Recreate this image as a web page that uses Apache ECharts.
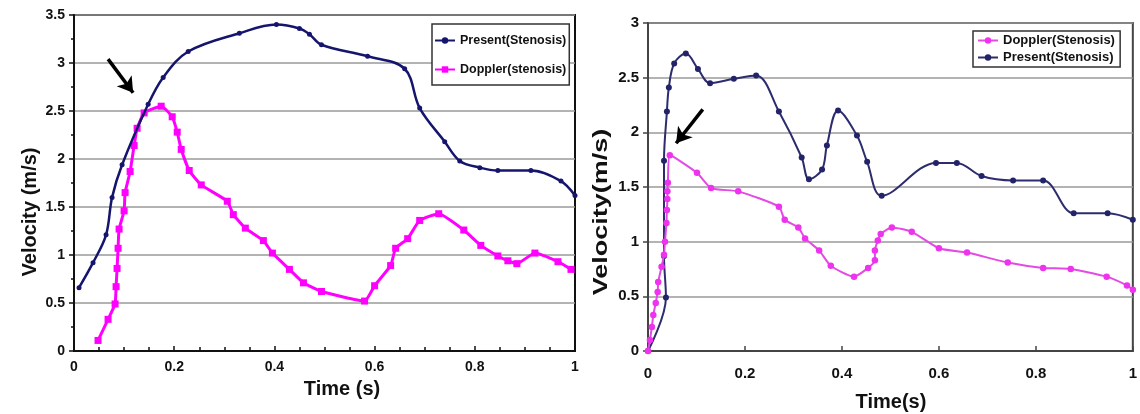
<!DOCTYPE html>
<html>
<head>
<meta charset="utf-8">
<script src="https://cdn.jsdelivr.net/npm/echarts@6/dist/echarts.min.js"></script>
<style>html,body{margin:0;padding:0;background:#fff}#c{width:1140px;height:414px}</style>
</head>
<body>
<div id="c"></div>
<script>
// ---- Left panel data [time (s), velocity (m/s)] ----
var leftPresent = [[0.01,0.66],[0.038,0.92],[0.064,1.21],[0.076,1.6],[0.096,1.94],[0.148,2.57],[0.178,2.85],[0.228,3.12],[0.33,3.31],[0.404,3.4],[0.45,3.36],[0.47,3.3],[0.494,3.19],[0.586,3.07],[0.66,2.94],[0.69,2.53],[0.74,2.18],[0.77,1.98],[0.81,1.91],[0.846,1.88],[0.912,1.88],[0.972,1.77],[1.0,1.62]];
var leftDoppler = [[0.048,0.11],[0.068,0.33],[0.082,0.49],[0.084,0.67],[0.086,0.86],[0.088,1.07],[0.09,1.27],[0.1,1.46],[0.102,1.65],[0.112,1.87],[0.12,2.14],[0.126,2.32],[0.14,2.48],[0.174,2.55],[0.196,2.44],[0.206,2.28],[0.214,2.1],[0.23,1.88],[0.254,1.73],[0.306,1.56],[0.318,1.42],[0.342,1.28],[0.378,1.15],[0.396,1.02],[0.43,0.85],[0.458,0.71],[0.494,0.62],[0.58,0.52],[0.6,0.68],[0.632,0.89],[0.642,1.07],[0.666,1.17],[0.69,1.36],[0.728,1.43],[0.778,1.26],[0.812,1.10],[0.846,0.99],[0.866,0.94],[0.884,0.91],[0.92,1.02],[0.966,0.93],[0.992,0.85]];
// ---- Right panel data ----
var rightPresent = [[0,0],[0.037,0.49],[0.033,0.87],[0.033,1.74],[0.039,2.19],[0.043,2.41],[0.054,2.63],[0.078,2.72],[0.103,2.58],[0.128,2.45],[0.177,2.49],[0.223,2.52],[0.27,2.19],[0.317,1.77],[0.332,1.57],[0.359,1.66],[0.369,1.88],[0.392,2.2],[0.431,1.97],[0.452,1.73],[0.482,1.42],[0.594,1.72],[0.637,1.72],[0.688,1.6],[0.753,1.56],[0.815,1.56],[0.878,1.26],[0.948,1.26],[1.0,1.2]];
var rightDoppler = [[0,0],[0.004,0.1],[0.008,0.22],[0.011,0.33],[0.016,0.44],[0.02,0.54],[0.021,0.63],[0.028,0.77],[0.033,0.88],[0.035,1.0],[0.038,1.17],[0.039,1.29],[0.04,1.39],[0.04,1.46],[0.041,1.54],[0.045,1.79],[0.101,1.63],[0.13,1.49],[0.186,1.46],[0.27,1.32],[0.282,1.2],[0.31,1.13],[0.324,1.03],[0.353,0.92],[0.377,0.78],[0.425,0.68],[0.454,0.76],[0.468,0.83],[0.468,0.92],[0.474,1.01],[0.48,1.07],[0.503,1.13],[0.544,1.09],[0.6,0.94],[0.658,0.9],[0.742,0.81],[0.815,0.76],[0.872,0.75],[0.946,0.68],[0.988,0.6],[1.0,0.56]];
// arrow annotations (data coords: tail, tip)
var leftArrow = [[0.068,3.04],[0.118,2.69]];
var rightArrow = [[0.113,2.21],[0.058,1.90]];

var leftNames = ['Present(Stenosis)','Doppler(stenosis)'];
var rightNames = ['Doppler(Stenosis)','Present(Stenosis) '];

var FONT = '"Liberation Sans", Arial, sans-serif';
var chart = echarts.init(document.getElementById('c'), null, {renderer:'canvas'});

function xAxisCfg(gi, lineColor, inside, margin, fs){
  return {type:'value', gridIndex:gi, min:0, max:1, interval:0.2,
    axisLine:{show:true, onZero:false, lineStyle:{color:lineColor, width:2}},
    axisTick:{show:true, inside:inside, length:5, lineStyle:{color:lineColor, width:1.5}},
    minorTick:{show:gi===0, splitNumber:4, length:4, lineStyle:{color:lineColor, width:1.5}},
    splitLine:{show:false},
    axisLabel:{color:'#111', fontFamily:FONT, fontWeight:'bold', fontSize:fs, margin:margin,
      formatter:function(v){return String(+v.toFixed(1));}}
  };
}
function yAxisCfg(gi, max, lineColor, margin, fs){
  return {type:'value', gridIndex:gi, min:0, max:max, interval:0.5,
    axisLine:{show:true, onZero:false, lineStyle:{color:lineColor, width:2}},
    axisTick:{show:true, length:5, lineStyle:{color:lineColor, width:1.5}},
    minorTick:{show:gi===0, splitNumber:2, length:3, lineStyle:{color:lineColor, width:1.5}},
    splitLine:{show:true, lineStyle:{color:'#9a9a9a', width:1.5}},
    axisLabel:{color:'#111', fontFamily:FONT, fontWeight:'bold', fontSize:fs, margin:margin,
      formatter:function(v){return String(+v.toFixed(1));}}
  };
}
function arrowLine(a){
  return {silent:true, symbol:['none','arrow'], symbolSize:[14,15], label:{show:false},
    lineStyle:{color:'#000', width:3.5, type:'solid'},
    data:[[{coord:a[0]},{coord:a[1]}]]};
}

var option = {
  animation:false,
  backgroundColor:'#fff',
  grid:[
    {left:74, top:15, width:501, height:336, show:true, borderColor:'#111', borderWidth:2, backgroundColor:'transparent'},
    {left:648, top:23, width:485, height:328, show:true, borderColor:'#444', borderWidth:2, backgroundColor:'transparent'}
  ],
  xAxis:[ xAxisCfg(0,'#111',true,9,14), xAxisCfg(1,'#444',true,15,15) ],
  yAxis:[ yAxisCfg(0,3.5,'#111',9,14), yAxisCfg(1,3,'#444',9,15) ],
  legend:[
    {data:leftNames, left:432, top:24, orient:'vertical', itemGap:16, itemWidth:20, itemHeight:8,
     padding:[10,3,9,2], borderColor:'#333', borderWidth:1.5, backgroundColor:'#fff', selectedMode:false,
     textStyle:{fontFamily:FONT, fontWeight:'bold', fontSize:12.5, color:'#111'}},
    {data:rightNames, left:973, top:31, orient:'vertical', itemGap:4, itemWidth:20, itemHeight:8,
     padding:[3,3,3,4], borderColor:'#333', borderWidth:1.5, backgroundColor:'#fff', selectedMode:false,
     textStyle:{fontFamily:FONT, fontWeight:'bold', fontSize:13, color:'#111'}}
  ],
  graphic:[
    {type:'text', x:30, y:212, rotation:Math.PI/2, style:{text:'Velocity (m/s)', font:'bold 20px '+FONT, fill:'#111', align:'center', verticalAlign:'middle'}},
    {type:'text', x:342, y:389, style:{text:'Time (s)', font:'bold 20px '+FONT, fill:'#111', align:'center', verticalAlign:'middle'}},
    {type:'text', x:601, y:212, rotation:Math.PI/2, scaleX:1.35, style:{text:'Velocity(m/s)', font:'bold 20px '+FONT, fill:'#111', align:'center', verticalAlign:'middle'}},
    {type:'text', x:891, y:402, style:{text:'Time(s)', font:'bold 20px '+FONT, fill:'#111', align:'center', verticalAlign:'middle'}}
  ],
  series:[
    {name:leftNames[0], type:'line', xAxisIndex:0, yAxisIndex:0, data:leftPresent, smooth:0.35,
     symbol:'circle', symbolSize:5, showSymbol:true, itemStyle:{color:'#15156e'}, lineStyle:{color:'#15156e', width:2.5},
     markLine:arrowLine(leftArrow), z:3},
    {name:leftNames[1], type:'line', xAxisIndex:0, yAxisIndex:0, data:leftDoppler, smooth:0.15,
     symbol:'rect', symbolSize:7, itemStyle:{color:'#ff00ff'}, lineStyle:{color:'#ff00ff', width:3}, z:2},
    {name:rightNames[1], type:'line', xAxisIndex:1, yAxisIndex:1, data:rightPresent, smooth:0.35,
     symbol:'circle', symbolSize:6, itemStyle:{color:'#23236a'}, lineStyle:{color:'#2c2c6e', width:2},
     markLine:arrowLine(rightArrow), z:2},
    {name:rightNames[0], type:'line', xAxisIndex:1, yAxisIndex:1, data:rightDoppler, smooth:0.2,
     symbol:'circle', symbolSize:6.5, itemStyle:{color:'#ee33ee'}, lineStyle:{color:'#e44ae4', width:2}, z:3}
  ]
};
chart.setOption(option);
</script>
</body>
</html>
